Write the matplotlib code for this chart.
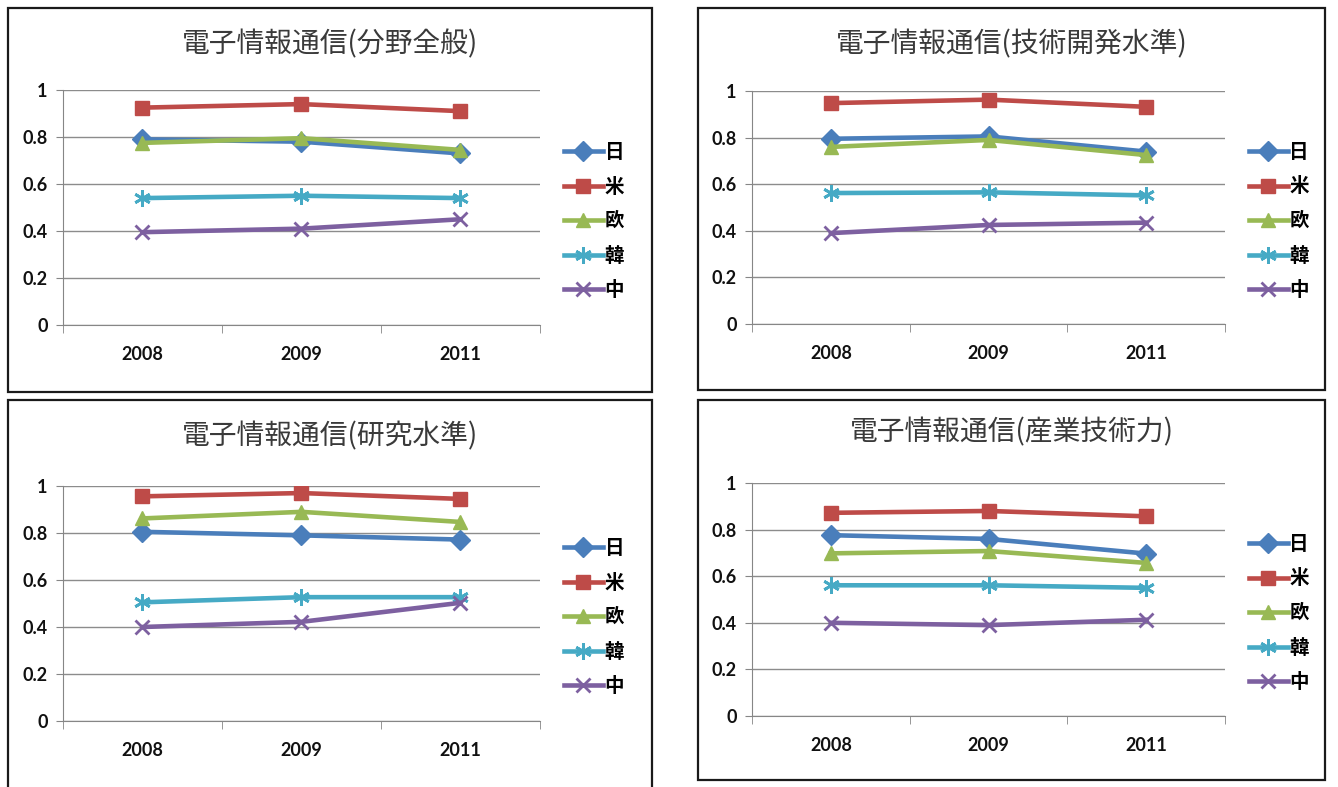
import matplotlib
matplotlib.use("Agg")
import matplotlib.pyplot as plt
from matplotlib.patches import Rectangle

plt.rcParams['font.family'] = ['Noto Sans CJK JP', 'DejaVu Sans']

years = ["2008", "2009", "2011"]
countries = ["日", "米", "欧", "韓", "中"]

titles = [
    "電子情報通信(分野全般)",
    "電子情報通信(技術開発水準)",
    "電子情報通信(研究水準)",
    "電子情報通信(産業技術力)",
]

# values per panel, one list per country (日, 米, 欧, 韓, 中)
general_jp = [0.79, 0.78, 0.73]
general_us = [0.925, 0.94, 0.91]
general_eu = [0.775, 0.795, 0.745]
general_kr = [0.54, 0.55, 0.54]
general_cn = [0.395, 0.41, 0.45]

devel_jp = [0.795, 0.805, 0.74]
devel_us = [0.948, 0.963, 0.932]
devel_eu = [0.76, 0.79, 0.725]
devel_kr = [0.562, 0.565, 0.552]
devel_cn = [0.39, 0.425, 0.435]

research_jp = [0.805, 0.79, 0.772]
research_us = [0.956, 0.97, 0.945]
research_eu = [0.862, 0.89, 0.847]
research_kr = [0.505, 0.527, 0.527]
research_cn = [0.40, 0.422, 0.503]

industry_jp = [0.776, 0.76, 0.697]
industry_us = [0.872, 0.88, 0.857]
industry_eu = [0.698, 0.708, 0.657]
industry_kr = [0.561, 0.561, 0.55]
industry_cn = [0.40, 0.39, 0.413]

panels = [
    [general_jp, general_us, general_eu, general_kr, general_cn],
    [devel_jp, devel_us, devel_eu, devel_kr, devel_cn],
    [research_jp, research_us, research_eu, research_kr, research_cn],
    [industry_jp, industry_us, industry_eu, industry_kr, industry_cn],
]

colors = ["#4A7EBB", "#BE4B48", "#98B954", "#46AAC5", "#7D60A0"]
markers = ["D", "s", "^", (6, 2, 0), "x"]
msizes = [10, 10, 10, 12, 10]

W, H = 1338, 787
fig = plt.figure(figsize=(W / 100, H / 100), dpi=100)

# layout in pixels: (box x0, y0, x1, y1), (axes x0, y_top, x1, y_bottom)
boxes = [(8, 8, 652, 392), (698, 8, 1325, 390), (8, 400, 652, 800), (698, 400, 1325, 780)]
axes_px = [(63, 90, 540, 325), (752, 91, 1225, 324), (63, 486, 540, 721), (752, 483, 1225, 716)]
title_y = [44, 44, 436, 432]

for i in range(4):
    bx0, by0, bx1, by1 = boxes[i]
    fig.patches.append(Rectangle((bx0 / W, 1 - by1 / H), (bx1 - bx0) / W, (by1 - by0) / H,
                                 transform=fig.transFigure, fill=False,
                                 edgecolor="#1a1a1a", lw=1.6))
    ax0, ay0, ax1, ay1 = axes_px[i]
    ax = fig.add_axes([ax0 / W, 1 - ay1 / H, (ax1 - ax0) / W, (ay1 - ay0) / H])

    for j, vals in enumerate(panels[i]):
        ax.plot(range(len(years)), vals, color=colors[j], lw=3.3, marker=markers[j],
                ms=msizes[j], mew=2 if j >= 3 else 1, label=countries[j], zorder=3)

    ax.set_xlim(-0.5, 2.5)
    ax.set_ylim(0, 1)
    ax.set_yticks([0, 0.2, 0.4, 0.6, 0.8, 1])
    ax.set_yticklabels(["0", "0.2", "0.4", "0.6", "0.8", "1"])
    ax.set_xticks(range(len(years)))
    ax.set_xticklabels(years)
    ax.set_xticks([-0.5, 0.5, 1.5, 2.5], minor=True)
    ax.tick_params(axis="x", which="major", length=0, pad=15)
    ax.tick_params(axis="x", which="minor", length=6, color="#868686", direction="out")
    ax.tick_params(axis="y", length=5, color="#868686", pad=6)
    for lab in ax.get_xticklabels() + ax.get_yticklabels():
        lab.set_fontfamily("Lato")
        lab.set_fontweight("bold")
        lab.set_fontsize(13)
        lab.set_color("#111111")
    ax.grid(axis="y", color="#8c8c8c", lw=1)
    ax.set_axisbelow(True)
    for s in ["top", "right"]:
        ax.spines[s].set_visible(False)
    ax.spines["left"].set_color("#868686")
    ax.spines["bottom"].set_color("#868686")

    fig.text((bx0 + bx1) / 2 / W, 1 - title_y[i] / H, titles[i], ha="center", va="center",
             fontsize=20, color="#3a3a3a")

    ax.legend(loc="center left", bbox_to_anchor=(1.05, 0.44), frameon=False,
              borderaxespad=0, borderpad=0, handlelength=2.0, handletextpad=0.1,
              labelspacing=0.8, prop={"size": 14, "weight": "bold"})

fig.savefig("out.png", dpi=100)
